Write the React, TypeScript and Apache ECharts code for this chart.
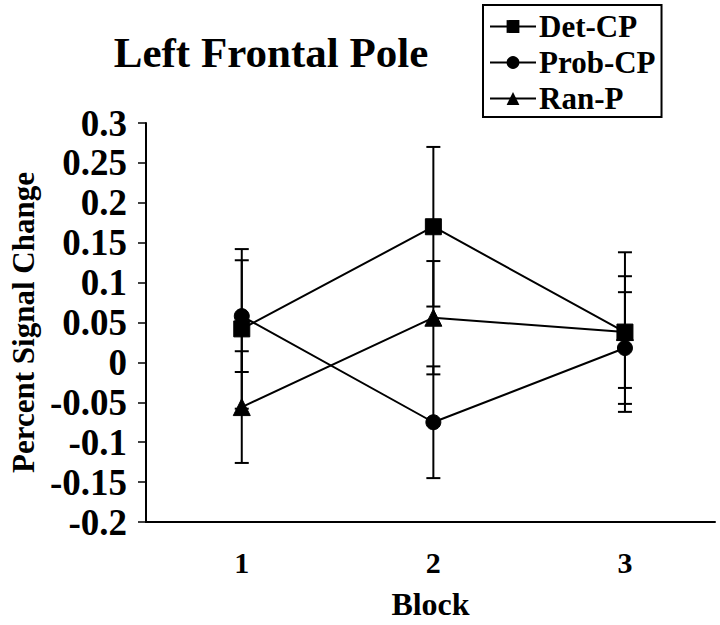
import React, { useEffect, useRef } from "react";
import * as echarts from "echarts";

const blocks = [1, 2, 3];
const seriesNames = ["Det-CP", "Prob-CP", "Ran-P"];
const detCP = [0.042, 0.17, 0.038];
const detCPErr = [0.1, 0.1, 0.1];
const probCP = [0.058, -0.075, 0.018];
const probCPErr = [0.07, 0.07, 0.07];
const ranP = [-0.056, 0.056, 0.038];
const ranPErr = [0.07, 0.071, 0.07];
const yTicks = [-0.2, -0.15, -0.1, -0.05, 0, 0.05, 0.1, 0.15, 0.2, 0.25, 0.3];

const FONT = "'Liberation Serif', 'Times New Roman', serif";

export default function App() {
  const ref = useRef<HTMLDivElement>(null);
  useEffect(() => {
    if (!ref.current) return;
    const chart = echarts.init(ref.current, undefined, { renderer: "svg" });
    const values = [detCP, probCP, ranP];
    const errs = [detCPErr, probCPErr, ranPErr];
    const symbols = ["rect", "circle", "triangle"];
    const sizes = [16, 15, 17];

    const errData: number[][] = [];
    values.forEach((vals, s) => {
      vals.forEach((v, i) => {
        errData.push([blocks[i], v - errs[s][i], v + errs[s][i]]);
      });
    });

    const lineSeries = values.map((vals, s) => ({
      name: seriesNames[s],
      type: "line",
      data: vals.map((v, i) => [blocks[i], v]),
      symbol: symbols[s],
      symbolSize: sizes[s],
      showAllSymbol: true,
      lineStyle: { color: "#000", width: 2 },
      itemStyle: { color: "#000", borderColor: "#000" },
      z: 3,
    }));

    chart.setOption({
      animation: false,
      backgroundColor: "#fff",
      title: {
        text: "Left Frontal Pole",
        left: 266,
        top: 26,
        textAlign: "center",
        textStyle: { fontFamily: FONT, fontWeight: "bold", fontSize: 43, color: "#000" },
      },
      legend: {
        orient: "vertical",
        left: 483,
        top: 5,
        borderColor: "#000",
        borderWidth: 2,
        padding: [6, 6, 3, 6],
        itemGap: 5,
        itemWidth: 46,
        itemHeight: 16,
        data: seriesNames,
        textStyle: { fontFamily: FONT, fontWeight: "bold", fontSize: 31, color: "#000", padding: [0, 0, 0, -2] },
      },
      grid: { left: 134, top: 123, right: 5, bottom: 100, containLabel: false },
      xAxis: {
        type: "value",
        min: 0.5,
        max: 3.47,
        interval: 0.5,
        name: "Block",
        nameLocation: "middle",
        nameGap: 66,
        nameTextStyle: { fontFamily: FONT, fontWeight: "bold", fontSize: 32, color: "#000" },
        axisLine: { onZero: false, lineStyle: { color: "#000", width: 2 } },
        axisTick: { show: false },
        splitLine: { show: false },
        axisLabel: {
          margin: 25,
          fontFamily: FONT,
          fontWeight: "bold",
          fontSize: 30,
          color: "#000",
          showMaxLabel: false,
          formatter: (v: number) => (blocks.includes(v) ? String(v) : ""),
        },
      },
      yAxis: {
        type: "value",
        min: yTicks[0],
        max: yTicks[yTicks.length - 1],
        interval: 0.05,
        name: "Percent Signal Change",
        nameLocation: "middle",
        nameGap: 99,
        nameTextStyle: { fontFamily: FONT, fontWeight: "bold", fontSize: 31, color: "#000" },
        axisLine: { show: true, onZero: false, lineStyle: { color: "#000", width: 2 } },
        axisTick: { show: true, length: 8, lineStyle: { color: "#000", width: 1.5 } },
        splitLine: { show: false },
        axisLabel: {
          margin: 19,
          fontFamily: FONT,
          fontWeight: "bold",
          fontSize: 37,
          color: "#000",
          formatter: (v: number) => String(parseFloat(v.toFixed(2))),
        },
      },
      series: [
        {
          type: "custom",
          name: "err",
          data: errData,
          z: 2,
          renderItem: (params: any, api: any) => {
            const x = api.value(0);
            const lo = api.coord([x, api.value(1)]);
            const hi = api.coord([x, api.value(2)]);
            const hw = 7;
            const style = { stroke: "#000", lineWidth: 2 };
            return {
              type: "group",
              children: [
                { type: "line", shape: { x1: lo[0], y1: lo[1], x2: hi[0], y2: hi[1] }, style },
                { type: "line", shape: { x1: lo[0] - hw, y1: lo[1], x2: lo[0] + hw, y2: lo[1] }, style },
                { type: "line", shape: { x1: hi[0] - hw, y1: hi[1], x2: hi[0] + hw, y2: hi[1] }, style },
              ],
            };
          },
        },
        ...lineSeries,
      ],
    });
    return () => chart.dispose();
  }, []);
  return (
    <div
      ref={ref}
      style={{ position: "fixed", left: 0, top: 0, width: 720, height: 625, background: "#fff" }}
    />
  );
}
